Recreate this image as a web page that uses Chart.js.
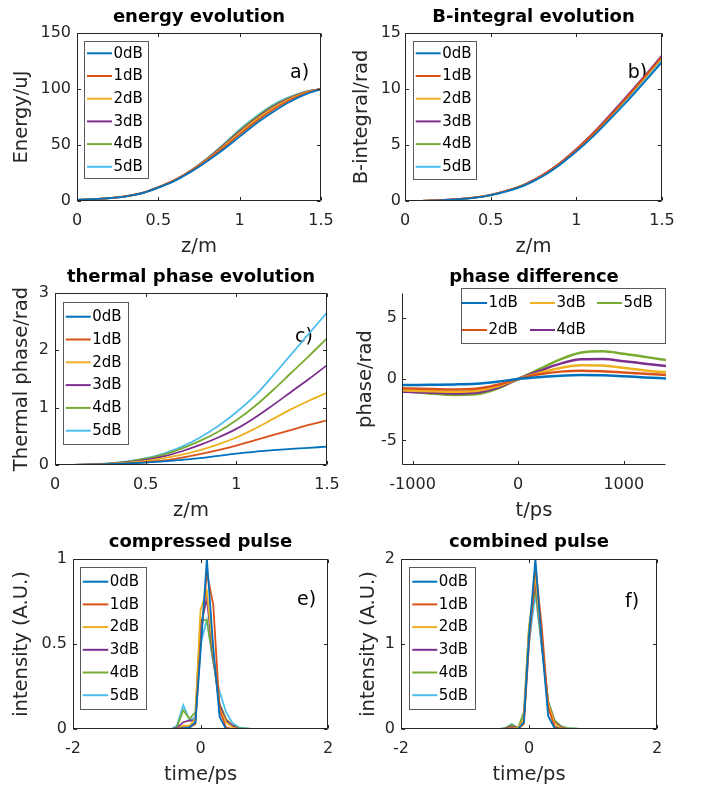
<!DOCTYPE html>
<html><head><meta charset="utf-8">
<script src="https://cdn.jsdelivr.net/npm/chart.js@4"></script>
<style>
html,body{margin:0;padding:0;background:#fff;}
body{width:701px;height:788px;position:relative;overflow:hidden;}
canvas{position:absolute;}
</style></head><body>
<canvas id="pa" width="350" height="258" style="left:0;top:0"></canvas>
<canvas id="pb" width="351" height="258" style="left:350px;top:0"></canvas>
<canvas id="pc" width="350" height="261" style="left:0;top:261px"></canvas>
<canvas id="pd" width="351" height="261" style="left:350px;top:261px"></canvas>
<canvas id="pe" width="350" height="263" style="left:0;top:525px"></canvas>
<canvas id="pf" width="351" height="263" style="left:350px;top:525px"></canvas>
<script>
// ---------- data ----------
const dbLabels = ['0dB','1dB','2dB','3dB','4dB','5dB'];
const diffLabels = ['1dB','2dB','3dB','4dB','5dB'];
const lineColors = ['#0072BD','#D95319','#EDB120','#7E2F8E','#77AC30','#4DBEEE'];

const zPos = [0,0.1,0.2,0.3,0.4,0.5,0.6,0.7,0.8,0.9,1.0,1.1,1.2,1.3,1.4,1.5];

const energySeries = [
  [1,1.6,2.6,4.2,7,12,18,26,35.5,46,57.5,69,79,88,95,100],
  [1,1.6,2.6,4.3,7.2,12.4,18.6,26.8,36.5,47.5,59.5,71,81,89.5,96,100],
  [1,1.6,2.6,4.3,7.2,12.3,18.6,27,37,48.5,61,72.5,82.5,90.5,96.5,100],
  [1,1.6,2.5,4.2,7.1,12.2,18.6,27.2,37.5,49.3,62,73.5,83.5,91.2,97,100],
  [1,1.5,2.5,4.1,7,12.1,18.5,27.3,37.8,50,63,74.5,84.5,92,97.3,100],
  [1,1.5,2.4,4,6.8,11.8,18.3,27.3,38,50.5,64,75.5,85.5,92.5,97.5,100]
];

const bIntegralSeries = [
  [0,0.02,0.06,0.14,0.28,0.52,0.9,1.42,2.18,3.2,4.42,5.8,7.35,8.95,10.65,12.4],
  [0,0.02,0.07,0.16,0.3,0.55,0.95,1.5,2.3,3.33,4.6,6.05,7.65,9.35,11.1,12.9],
  [0,0.02,0.07,0.15,0.3,0.54,0.94,1.48,2.27,3.3,4.57,6.0,7.6,9.3,11.0,12.8],
  [0,0.02,0.07,0.16,0.3,0.55,0.95,1.5,2.3,3.35,4.65,6.1,7.75,9.45,11.2,13.0],
  [0,0.02,0.06,0.15,0.29,0.53,0.92,1.46,2.25,3.28,4.55,5.98,7.6,9.3,11.05,12.85],
  [0,0.02,0.06,0.14,0.27,0.5,0.88,1.4,2.17,3.2,4.47,5.9,7.5,9.15,10.85,12.6]
];

const thermalSeries = [
  [0,0.002,0.006,0.014,0.026,0.042,0.062,0.09,0.12,0.16,0.2,0.23,0.26,0.28,0.3,0.32],
  [0,0.002,0.006,0.015,0.03,0.05,0.08,0.13,0.19,0.26,0.34,0.43,0.52,0.61,0.7,0.78],
  [0,0.002,0.008,0.02,0.04,0.07,0.12,0.18,0.26,0.36,0.48,0.63,0.8,0.97,1.12,1.26],
  [0,0.002,0.009,0.023,0.05,0.09,0.15,0.24,0.35,0.48,0.63,0.82,1.04,1.27,1.5,1.74],
  [0,0.003,0.011,0.028,0.06,0.11,0.18,0.29,0.42,0.58,0.78,1.02,1.3,1.6,1.9,2.21],
  [0,0.003,0.012,0.03,0.065,0.12,0.2,0.32,0.48,0.68,0.92,1.2,1.55,1.92,2.29,2.66]
];

const tPos = [-1100,-1000,-800,-600,-400,-200,0,200,400,600,800,1000,1200,1400];
const phaseDiffSeries = [
  [-0.49,-0.49,-0.47,-0.44,-0.38,-0.22,0,0.15,0.27,0.32,0.3,0.22,0.13,0.05],
  [-0.76,-0.78,-0.82,-0.85,-0.8,-0.48,0,0.38,0.6,0.68,0.63,0.52,0.42,0.33],
  [-0.92,-0.95,-1.0,-1.04,-0.98,-0.6,0,0.5,0.9,1.12,1.1,0.9,0.7,0.54],
  [-1.03,-1.06,-1.12,-1.18,-1.12,-0.72,0,0.65,1.25,1.6,1.62,1.45,1.25,1.06],
  [-0.98,-1.05,-1.2,-1.3,-1.25,-0.8,0,0.8,1.6,2.15,2.25,2.05,1.8,1.54]
];

const pulseT = [-2,-0.45,-0.37,-0.27,-0.17,-0.08,0,0.1,0.2,0.3,0.4,0.5,0.6,0.8,2];
const compressedSeries = [
  [0,0,0,0.005,0.01,0.04,0.45,1.0,0.48,0.07,0,0,0,0,0],
  [0,0,0,0.01,0.01,0.03,0.5,0.92,0.73,0.11,0.01,0,0,0,0],
  [0,0,0,0.02,0.02,0.06,0.7,0.81,0.45,0.12,0.04,0.01,0,0,0],
  [0,0,0.005,0.04,0.05,0.05,0.6,0.77,0.42,0.14,0.05,0.02,0,0,0],
  [0,0,0.01,0.11,0.06,0.1,0.64,0.64,0.4,0.15,0.06,0.02,0.005,0,0],
  [0,0,0.02,0.14,0.05,0.07,0.5,0.64,0.39,0.22,0.1,0.035,0.01,0,0]
];
const combinedSeries = [
  [0,0,0,0.005,0,0.08,1.1,2.0,1.0,0.15,0.01,0,0,0,0],
  [0,0,0,0.01,0,0.06,1.0,1.92,1.2,0.25,0.03,0,0,0,0],
  [0,0,0,0.02,0.01,0.12,1.2,1.8,1.0,0.3,0.07,0.01,0,0,0],
  [0,0,0.005,0.03,0.01,0.12,1.15,1.75,1.0,0.3,0.08,0.02,0,0,0],
  [0,0,0.01,0.05,0.01,0.2,1.2,1.65,1.0,0.32,0.1,0.03,0.01,0,0],
  [0,0,0.01,0.06,0.01,0.1,1.0,1.6,0.95,0.33,0.1,0.03,0.01,0,0]
];

const zTicks = [0,0.5,1,1.5];
const energyTicks = [0,50,100,150];
const bTicks = [0,5,10,15];
const thermalTicks = [0,1,2,3];
const phaseXTicks = [-1000,0,1000];
const phaseYTicks = [-5,0,5];
const pulseXTicks = [-2,0,2];
const compYTicks = [0,0.5,1];
const combYTicks = [0,1,2];

// ---------- drawing helpers ----------
const FAM = "'DejaVu Sans', sans-serif";
const AX = '#262626';

const matlabPlugin = {
  id: 'matlab',
  beforeDatasetsDraw(chart, args, o) {
    const ctx = chart.ctx, xs = chart.scales.x, ys = chart.scales.y;
    ctx.save();
    ctx.fillStyle = '#000';
    ctx.font = "19px " + FAM;
    ctx.textAlign = 'left'; ctx.textBaseline = 'middle';
    ctx.fillText(o.tag.text, xs.getPixelForValue(o.tag.x), ys.getPixelForValue(o.tag.y));
    ctx.restore();
  },
  afterDatasetsDraw(chart, args, o) {
    const ctx = chart.ctx, a = chart.chartArea, xs = chart.scales.x, ys = chart.scales.y;
    ctx.save();
    // axes box and inward ticks
    const L = Math.round(a.left) + 0.5, R = Math.round(a.right) - 0.5;
    const T = Math.round(a.top) + 0.5, B = Math.round(a.bottom) - 0.5;
    ctx.strokeStyle = AX; ctx.lineWidth = 1;
    ctx.beginPath();
    if (o.box) { ctx.rect(L, T, R - L, B - T); }
    else { ctx.moveTo(L, T); ctx.lineTo(L, B); ctx.lineTo(R, B); }
    const tl = 3.5;
    xs.ticks.forEach(t => {
      const p = Math.round(xs.getPixelForValue(t.value)) + 0.5;
      ctx.moveTo(p, B); ctx.lineTo(p, B - tl);
      if (o.box) { ctx.moveTo(p, T); ctx.lineTo(p, T + tl); }
    });
    ys.ticks.forEach(t => {
      const p = Math.round(ys.getPixelForValue(t.value)) + 0.5;
      ctx.moveTo(L, p); ctx.lineTo(L + tl, p);
      if (o.box) { ctx.moveTo(R, p); ctx.lineTo(R - tl, p); }
    });
    ctx.stroke();
    // legend
    const lg = o.legend;
    ctx.fillStyle = '#fff';
    ctx.fillRect(lg.box[0], lg.box[1], lg.box[2], lg.box[3]);
    ctx.strokeStyle = '#5a5a5a'; ctx.lineWidth = 1;
    ctx.strokeRect(Math.round(lg.box[0]) + 0.5, Math.round(lg.box[1]) + 0.5, Math.round(lg.box[2]), Math.round(lg.box[3]));
    ctx.font = "15px " + FAM;
    ctx.textBaseline = 'middle'; ctx.textAlign = 'left';
    chart.data.datasets.forEach((ds, i) => {
      let lx, ly;
      if (lg.cols) { lx = lg.cols[Math.floor(i / 2)]; ly = lg.rows[i % 2]; }
      else { lx = lg.lx; ly = lg.y0 + i * lg.dy; }
      ctx.strokeStyle = ds.borderColor; ctx.lineWidth = 2;
      ctx.beginPath(); ctx.moveTo(lx, ly); ctx.lineTo(lx + lg.len, ly); ctx.stroke();
      ctx.fillStyle = '#000';
      ctx.fillText(ds.label, lx + lg.len + 1.5, ly + 0.5);
    });
    ctx.restore();
  }
};

function makePanel(id, p) {
  const datasets = p.series.map((vals, i) => ({
    label: p.labels[i],
    data: p.xs.map((x, j) => ({x: x, y: vals[j]})),
    borderColor: p.colors[i],
    borderWidth: p.lw,
    pointRadius: 0,
    fill: false,
    cubicInterpolationMode: p.smooth ? 'monotone' : 'default',
    tension: 0
  }));
  const tickFont = {family: FAM, size: 16};
  const titleFont = {family: FAM, size: 19.5, lineHeight: 1};
  return new Chart(document.getElementById(id), {
    type: 'line',
    data: {datasets},
    options: {
      responsive: false, animation: false, devicePixelRatio: 1,
      events: [],
      layout: {padding: {left: 0, right: p.right, top: 0, bottom: 0}},
      plugins: {
        legend: {display: false},
        tooltip: {enabled: false},
        title: {display: true, text: p.title, color: '#000', fullSize: false,
          font: {family: FAM, size: 18, weight: 'bold', lineHeight: 1.2},
          padding: {top: p.tp[0], bottom: p.tp[1]}},
        matlab: {box: p.box, tag: p.tag, legend: p.legend}
      },
      scales: {
        x: {type: 'linear', min: p.xr[0], max: p.xr[1],
          afterFit: s => { s.height = p.xh; },
          afterBuildTicks: s => { s.ticks = p.xt.map(v => ({value: v})); },
          grid: {display: false, drawTicks: false}, border: {display: false},
          ticks: {font: tickFont, color: AX, padding: 10, autoSkip: false, maxRotation: 0,
            callback: v => String(v)},
          title: {display: true, text: p.xl, font: titleFont, color: AX, padding: {top: 0, bottom: p.xtp}}
        },
        y: {type: 'linear', min: p.yr[0], max: p.yr[1],
          afterFit: s => { s.width = p.yw; },
          afterBuildTicks: s => { s.ticks = p.yt.map(v => ({value: v})); },
          grid: {display: false, drawTicks: false}, border: {display: false},
          ticks: {font: tickFont, color: AX, padding: p.ytp, autoSkip: false,
            callback: v => String(v)},
          title: {display: true, text: p.yl, font: titleFont, color: AX, padding: {top: p.ylp, bottom: 0}}
        }
      }
    },
    plugins: [matlabPlugin]
  });
}

makePanel('pa', {
  title: 'energy evolution', labels: dbLabels, colors: lineColors, series: energySeries, xs: zPos,
  smooth: true, lw: 1.8, box: true,
  xr: [0, 1.5], yr: [0, 150], xt: zTicks, yt: energyTicks, xl: 'z/m', yl: 'Energy/uJ',
  yw: 77, right: 29, xh: 57, tp: [6.2, 5.2], xtp: 1.25, ylp: 12.25, ytp: 6,
  tag: {text: 'a)', x: 1.31, y: 114},
  legend: {box: [84, 41, 64, 137], lx: 87, len: 25, y0: 53.3, dy: 22.7}
});
makePanel('pb', {
  title: 'B-integral evolution', labels: dbLabels, colors: lineColors, series: bIntegralSeries, xs: zPos,
  smooth: true, lw: 1.8, box: true,
  xr: [0, 1.5], yr: [0, 15], xt: zTicks, yt: bTicks, xl: 'z/m', yl: 'B-integral/rad',
  yw: 55, right: 39, xh: 57, tp: [6.2, 5.2], xtp: 1.25, ylp: 2.25, ytp: 4,
  tag: {text: 'b)', x: 1.30, y: 11.43},
  legend: {box: [63.3, 41, 62.7, 138], lx: 65.7, len: 25, y0: 53.3, dy: 22.7}
});
makePanel('pc', {
  title: 'thermal phase evolution', labels: dbLabels, colors: lineColors, series: thermalSeries, xs: zPos,
  smooth: true, lw: 1.8, box: true,
  xr: [0, 1.5], yr: [0, 3], xt: zTicks, yt: thermalTicks, xl: 'z/m', yl: 'Thermal phase/rad',
  yw: 55, right: 23, xh: 57, tp: [5.9, 4.5], xtp: 1.25, ylp: 12.25, ytp: 6,
  tag: {text: 'c)', x: 1.324, y: 2.23},
  legend: {box: [63.3, 40.7, 65, 141.6], lx: 65.7, len: 25, y0: 55.7, dy: 22.8}
});
makePanel('pd', {
  title: 'phase difference', labels: diffLabels, colors: lineColors, series: phaseDiffSeries, xs: tPos,
  smooth: true, lw: 2.5, box: false,
  xr: [-1100, 1400], yr: [-7, 7], xt: phaseXTicks, yt: phaseYTicks, xl: 't/ps', yl: 'phase/rad',
  yw: 52, right: 35, xh: 57, tp: [5.9, 4.5], xtp: 1.25, ylp: 6.25, ytp: 5,
  tag: {text: 'd)', x: 1087, y: 3.58},
  legend: {box: [111, 27, 204, 55], cols: [112, 180, 247], rows: [42, 69], len: 25}
});
makePanel('pe', {
  title: 'compressed pulse', labels: dbLabels, colors: lineColors, series: compressedSeries, xs: pulseT,
  smooth: false, lw: 1.8, box: true,
  xr: [-2, 2], yr: [0, 1], xt: pulseXTicks, yt: compYTicks, xl: 'time/ps', yl: 'intensity (A.U.)',
  yw: 73, right: 22, xh: 59, tp: [6.2, 6.2], xtp: 3.25, ylp: 12.25, ytp: 6,
  tag: {text: 'e)', x: 1.514, y: 0.76},
  legend: {box: [80, 41.7, 65.7, 141.6], lx: 82.7, len: 25.6, y0: 56.7, dy: 22.7}
});
makePanel('pf', {
  title: 'combined pulse', labels: dbLabels, colors: lineColors, series: combinedSeries, xs: pulseT,
  smooth: false, lw: 1.8, box: true,
  xr: [-2, 2], yr: [0, 2], xt: pulseXTicks, yt: combYTicks, xl: 'time/ps', yl: 'intensity (A.U.)',
  yw: 51, right: 44, xh: 59, tp: [6.2, 6.2], xtp: 3.25, ylp: 9.25, ytp: 6,
  tag: {text: 'f)', x: 1.5, y: 1.49},
  legend: {box: [59.3, 41.7, 65.7, 141.6], lx: 62.3, len: 25, y0: 56.7, dy: 22.7}
});
</script>
</body></html>
